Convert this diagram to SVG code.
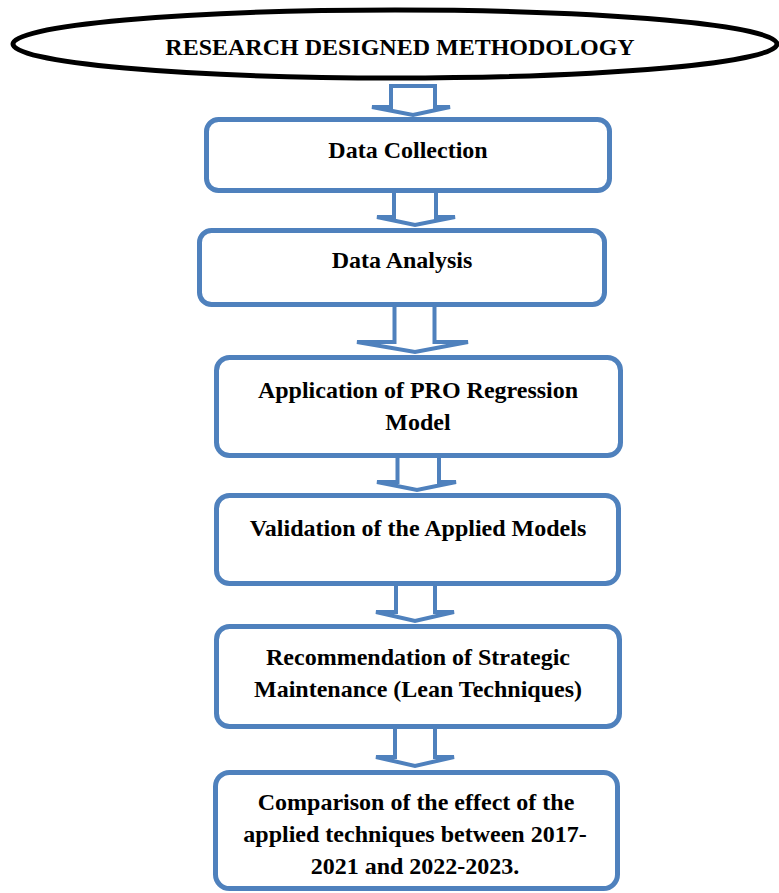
<svg xmlns="http://www.w3.org/2000/svg" width="779" height="893" viewBox="0 0 779 893">
<style>
.box{fill:#fff;stroke:#4f81bd;stroke-width:5}
.arr{fill:#fff;stroke:#4f81bd;stroke-width:4;stroke-linejoin:miter}
.t{font-family:"Liberation Serif","Times New Roman",serif;font-weight:bold;font-size:24px;fill:#000;text-anchor:middle}
</style>
<rect width="779" height="893" fill="#fff"/>
<g id="title">
<ellipse cx="395" cy="44" rx="382" ry="34" fill="#fff" stroke="#000" stroke-width="5"/>
<text class="t" x="400" y="55">RESEARCH DESIGNED METHODOLOGY</text>
</g>
<g id="connectors">
<path class="arr" d="M391,86 L391,107 L372,107 L413,115 L450,107 L435,107 L435,86 Z"/>
<path class="arr" d="M394,193 L394,217 L377,217 L415,225 L455,217 L436,217 L436,193"/>
<path class="arr" d="M394.5,307 L394.5,342 L357,342 L415,352 L468,342 L434.5,342 L434.5,307"/>
<path class="arr" d="M397.5,458 L397.5,482 L377,482 L417,490 L456,482 L439,482 L439,458"/>
<path class="arr" d="M396,586 L396,612 L376,612 L415,621 L454,612 L435,612 L435,586"/>
<path class="arr" d="M395,729 L395,757 L376,757 L415,766 L454,757 L435,757 L435,729"/>
</g>
<g id="n1">
<rect class="box" x="206.5" y="119.5" width="403" height="71" rx="12"/>
<text class="t" x="408" y="158">Data Collection</text>
</g>
<g id="n2">
<rect class="box" x="199.5" y="230.5" width="405" height="74" rx="12"/>
<text class="t" x="402" y="268">Data Analysis</text>
</g>
<g id="n3">
<rect class="box" x="216.5" y="357.5" width="404" height="98" rx="13"/>
<text class="t" x="418" y="398">Application of PRO Regression</text>
<text class="t" x="418" y="430">Model</text>
</g>
<g id="n4">
<rect class="box" x="216.5" y="495.5" width="402" height="88" rx="13"/>
<text class="t" x="418" y="536">Validation of the Applied Models</text>
</g>
<g id="n5">
<rect class="box" x="216.5" y="626.5" width="403" height="100" rx="13"/>
<text class="t" x="418" y="665">Recommendation of Strategic</text>
<text class="t" x="418" y="697">Maintenance (Lean Techniques)</text>
</g>
<g id="n6">
<rect class="box" x="215.5" y="772.5" width="402" height="116" rx="14"/>
<text class="t" x="416" y="810">Comparison of the effect of the</text>
<text class="t" x="415" y="842">applied techniques between 2017-</text>
<text class="t" x="415" y="874">2021 and 2022-2023.</text>
</g>
</svg>
